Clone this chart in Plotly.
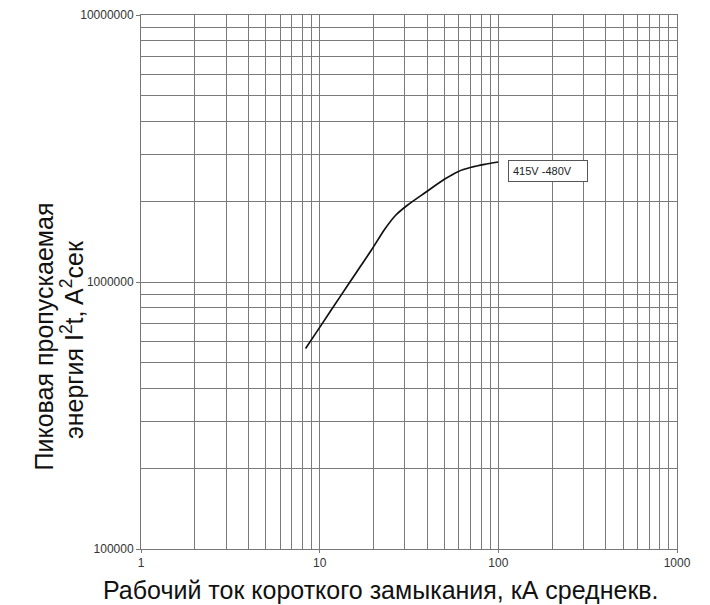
import plotly.graph_objects as go

# Curve data
current_ka = [8.34, 9.5, 11.53, 14.61, 17.0, 19.78, 22.97, 26.7, 31.1, 38.5, 49.9, 59.4, 70.5, 83.8, 100]
i2t = [564000, 642000, 780000, 989000, 1150000, 1337000, 1566000, 1782000, 1943000,
       2149000, 2424000, 2589000, 2689000, 2759000, 2815000]

x_ticks = [1, 10, 100, 1000]
x_tick_labels = ["1", "10", "100", "1000"]
y_ticks = [100000, 1000000, 10000000]
y_tick_labels = ["100000", "1000000", "10000000"]
x_minor = [m * d for d in (1, 10, 100) for m in range(2, 10)]
y_minor = [m * d for d in (100000, 1000000) for m in range(2, 10)]

series_label = "415V -480V"
x_title = "Рабочий ток короткого замыкания, кА среднекв."
y_title_1 = "Пиковая пропускаемая"
y_title_2 = "энергия I<sup>2</sup>t, A<sup>2</sup>сек"

grid_col = "#7a7a7a"

# page offset from default body margin
OFF = 8
W, H = 710 - OFF, 605 - OFF
L = 141 - OFF
T = 15 - OFF
R = W - (677 - OFF)
B = H - (549 - OFF)
pw = W - L - R
ph = H - T - B


def px_x(px):
    return (px - OFF - L) / pw


def px_y(py):
    return (H - B - (py - OFF)) / ph


fig = go.Figure()
fig.add_trace(go.Scatter(x=current_ka, y=i2t, mode="lines",
                         line=dict(color="#111111", width=1.7, shape="spline", smoothing=0.6),
                         showlegend=False, hoverinfo="skip"))

axis_common = dict(
    showgrid=True, gridcolor=grid_col, gridwidth=1,
    ticks="outside", tickcolor="#777",
    showline=True, linecolor="#777", linewidth=1, mirror=True,
    tickfont=dict(size=12, color="#333"), zeroline=False, automargin=False,
)

fig.update_layout(
    width=W, height=H,
    margin=dict(l=L, r=R, t=T, b=B, autoexpand=False),
    paper_bgcolor="white", plot_bgcolor="white",
    font=dict(family="Liberation Sans, Arial, sans-serif", color="#222"),
    xaxis=dict(type="log", range=[0, 3], tickvals=x_ticks, ticktext=x_tick_labels, ticklen=3,
               minor=dict(tickvals=x_minor, showgrid=True, gridcolor=grid_col, gridwidth=1, ticks=""),
               **axis_common),
    yaxis=dict(type="log", range=[5, 7], tickvals=y_ticks, ticktext=y_tick_labels, ticklen=4,
               minor=dict(tickvals=y_minor, showgrid=True, gridcolor=grid_col, gridwidth=1, ticks=""),
               **axis_common),
    annotations=[
        dict(text=series_label, xref="paper", yref="paper", x=px_x(548), y=px_y(171),
             xanchor="center", yanchor="middle",
             showarrow=False, font=dict(size=11, color="#222"),
             bordercolor="#555", borderwidth=1, borderpad=4, bgcolor="white",
             width=70, height=12, align="left"),
        dict(text=x_title, xref="paper", yref="paper", x=px_x(381), y=px_y(590),
             xanchor="center", yanchor="middle", showarrow=False,
             font=dict(size=25, color="#111")),
        dict(text=y_title_1, xref="paper", yref="paper", x=px_x(43.5), y=px_y(337),
             xanchor="center", yanchor="middle",
             textangle=-90, showarrow=False, font=dict(size=25, color="#111")),
        dict(text=y_title_2, xref="paper", yref="paper", x=px_x(72), y=px_y(340),
             xanchor="center", yanchor="middle",
             textangle=-90, showarrow=False, font=dict(size=25, color="#111")),
    ],
)

fig.write_html("out.html")
